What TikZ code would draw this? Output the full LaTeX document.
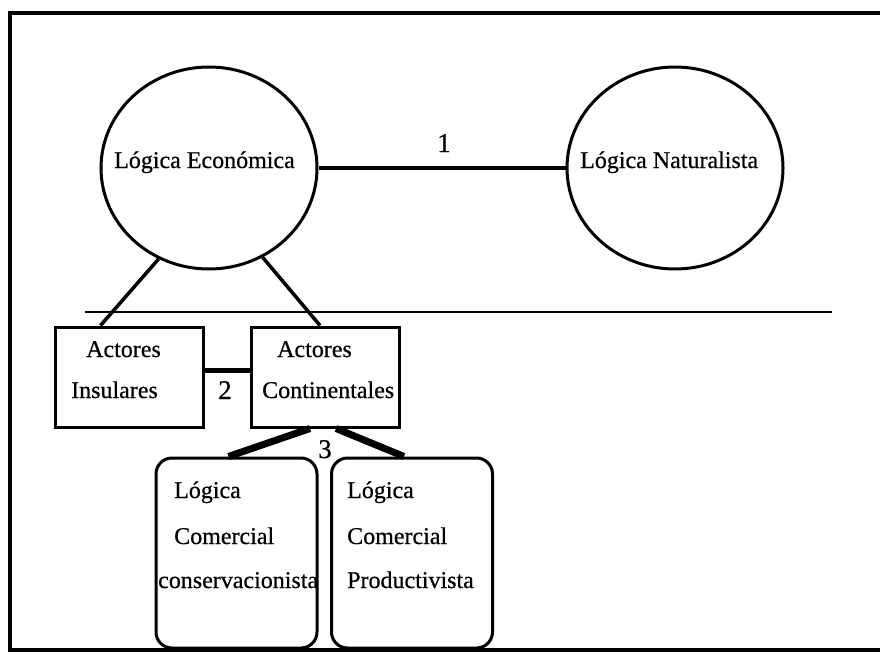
\documentclass[tikz,border=0pt]{standalone}
\usepackage{fontspec}
\setmainfont[FakeBold=0.6]{Liberation Serif}
\usetikzlibrary{shapes.geometric,calc}
\begin{document}
\begin{tikzpicture}[x=1pt,y=-1pt,
  txt/.style={font=\fontsize{24}{28}\selectfont, inner sep=0pt, anchor=base west},
  lbl/.style={font=\fontsize{27}{30}\selectfont, inner sep=0pt, anchor=base},
  logic/.style={draw, ellipse, line width=3pt, minimum width=216pt, minimum height=202pt, inner sep=0pt},
  actbox/.style={draw, rectangle, line width=3pt, minimum width=148pt, minimum height=100pt, inner sep=0pt},
  combox/.style={draw, rectangle, rounded corners=16pt, line width=3pt, minimum width=161pt, minimum height=190pt, inner sep=0pt},
  link/.style={line width=3.5pt},
  thicklink/.style={line width=5pt},
  heavylink/.style={line width=7pt}]
\useasboundingbox (0,0) rectangle (880,658);
% frame
\coordinate (ftr) at (880,13);
\coordinate (ftl) at (10,13);
\coordinate (fbl) at (10,650);
\coordinate (fbr) at (880,650);
\draw[line width=3.5pt] (ftr) -- (ftl) -- (fbl) -- (fbr);
% ellipses
\node[logic] (eco) at (209,168) {};
\node[logic] (nat) at (675,168) {};
\node[txt] (ecot) at (114,168) {Lógica Económica};
\node[txt] (natt) at (580,168) {Lógica Naturalista};
\draw[link] (eco.east) -- (nat.west);
\node[lbl] (one) at (444,152) {1};
% separator line
\coordinate (sepl) at (85,312);
\coordinate (sepr) at (832,312);
\draw[line width=2.5pt] (sepl) -- (sepr);
% actor boxes
\node[actbox] (ins) at (129,377) {};
\node[actbox] (cont) at (325.5,377) {};
\node[txt] (inst1) at (86,357) {Actores};
\node[txt] (inst2) at (71,398) {Insulares};
\node[txt] (cont1) at (277,357) {Actores};
\node[txt] (cont2) at (262,398) {Continentales};
\draw[link] (eco.241) -- ($(ins.north west)+(47,0)$);
\draw[link] (eco.301) -- ($(cont.north west)+(70,0)$);
\draw[thicklink] ([yshift=7pt]ins.east) -- ([yshift=7pt]cont.west);
\node[lbl] (two) at (225,399) {2};
% commercial logic boxes
\node[combox] (cons) at (236.5,553) {};
\node[combox] (prod) at (412,553) {};
\node[txt] (cons1) at (174,498) {Lógica};
\node[txt] (cons2) at (174,544) {Comercial};
\node[txt] (cons3) at (158,588) {conservacionista};
\node[txt] (prod1) at (347,498) {Lógica};
\node[txt] (prod2) at (347,544) {Comercial};
\node[txt] (prod3) at (347,588) {Productivista};
\draw[heavylink] ($(cont.south west)+(60,0)$) -- ($(cons.north west)+(74,0)$);
\draw[heavylink] ($(cont.south west)+(86,0)$) -- ($(prod.north west)+(74,0)$);
\node[lbl] (three) at (325,458) {3};
\end{tikzpicture}
\end{document}
